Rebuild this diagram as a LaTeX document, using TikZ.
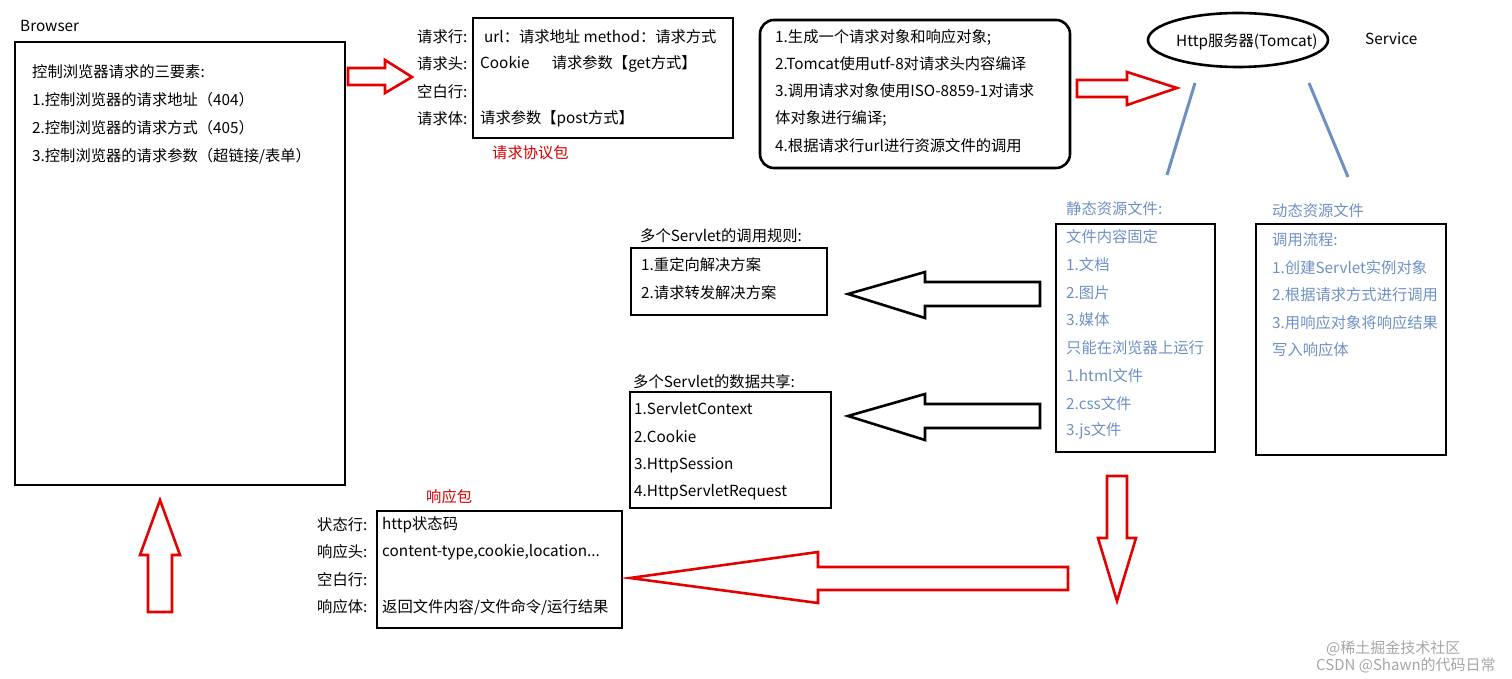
\documentclass[tikz,border=0pt]{standalone}
\usepackage{fontspec}
\setmainfont{Noto Sans CJK SC}
\definecolor{sblue}{HTML}{6E8FC4}
\begin{document}
\begin{tikzpicture}[x=1pt,y=-1pt,
  box/.style={draw=black,line width=2.6pt},
  t/.style={anchor=west,inner sep=0pt,font=\fontsize{15.3}{17}\selectfont},
  bt/.style={t,text=sblue},
  rt/.style={t,text=red!85!black},
  rarrow/.style={draw=red!90!black,line width=2.6pt,fill=white,line join=miter},
  karrow/.style={draw=black,line width=2.6pt,fill=white,line join=miter},
  bline/.style={draw=sblue,line width=3pt}]
\useasboundingbox (0,0) rectangle (1512,679);
% boxes
\draw[box] (15,42) rectangle (345,485);
\node[t] (br) at (20,26) {Browser};
\node[t] at (32,72) {控制浏览器请求的三要素:};
\node[t] at (32,100) {1.控制浏览器的请求地址（404）};
\node[t] at (32,128) {2.控制浏览器的请求方式（405）};
\node[t] at (32,156) {3.控制浏览器的请求参数（超链接/表单）};
% request package
\draw[box] (473,18) rectangle (733,138);
\node[t] at (417,37) {请求行:};
\node[t] at (417,64) {请求头:};
\node[t] at (417,92) {空白行:};
\node[t] at (417,119) {请求体:};
\node[t] at (484,37) {url：请求地址 method：请求方式};
\node[t] at (480,64) {Cookie\quad\ \ 请求参数【get方式】};
\node[t] at (480,119) {请求参数【post方式】};
\node[rt] at (492,153) {请求协议包};
% rounded box
\draw[box,rounded corners=14pt] (760,20) rectangle (1070,168);
\node[t] at (775,37) {1.生成一个请求对象和响应对象;};
\node[t] at (775,64) {2.Tomcat使用utf-8对请求头内容编译};
\node[t] at (775,91) {3.调用请求对象使用ISO-8859-1对请求};
\node[t] at (775,118) {体对象进行编译;};
\node[t] at (775,146) {4.根据请求行url进行资源文件的调用};
% server
\draw[box] (1238,40) ellipse (90 and 27);
\node[t] (srv) at (1176,42) {Http服务器(Tomcat)};
\node[t] at (1365,39) {Service};
\draw[bline] (1195,83) -- (1167,175);
\draw[bline] (1309,83) -- (1348,177);
% static
\node[bt] at (1066,209) {静态资源文件:};
\draw[box] (1056,224) rectangle (1215,452);
\foreach \s [count=\i from 0] in {文件内容固定,1.文档,2.图片,3.媒体,只能在浏览器上运行,1.html文件,2.css文件,3.js文件}
  \node[bt] at (1066,237+27.7*\i) {\s};
% dynamic
\node[bt] at (1272,211) {动态资源文件};
\draw[box] (1256,224) rectangle (1446,455);
\foreach \s [count=\i from 0] in {调用流程:,1.创建Servlet实例对象,2.根据请求方式进行调用,3.用响应对象将响应结果,写入响应体}
  \node[bt] at (1272,240+27.5*\i) {\s};
% servlet rules
\node[t] at (640,236) {多个Servlet的调用规则:};
\draw[box] (631,248) rectangle (827,315);
\node[t] at (641,265) {1.重定向解决方案};
\node[t] at (641,293) {2.请求转发解决方案};
% data share
\node[t] at (633,382) {多个Servlet的数据共享:};
\draw[box] (630,392) rectangle (831,508);
\node[t] at (634,409) {1.ServletContext};
\node[t] at (634,437) {2.Cookie};
\node[t] at (634,465) {3.HttpSession};
\node[t] at (634,492) {4.HttpServletRequest};
% response
\node[rt] at (426,497) {响应包};
\draw[box] (377,511) rectangle (622,628);
\node[t] at (317,525) {状态行:};
\node[t] at (317,552) {响应头:};
\node[t] at (317,580) {空白行:};
\node[t] at (317,607) {响应体:};
\node[t] at (382,525) {http状态码};
\node[t] at (382,552) {content-type,cookie,location...};
\node[t] at (382,607) {返回文件内容/文件命令/运行结果};
% arrows
\draw[rarrow] (348,68) -- (385,68) -- (385,60) -- (412,77) -- (385,93) -- (385,85) -- (348,85) -- cycle;
\draw[rarrow] (1077,80) -- (1127,80) -- (1127,72) -- (1177,88) -- (1127,105) -- (1127,97) -- (1077,97) -- cycle;
\draw[karrow] (1040,282) -- (925,282) -- (925,272) -- (848,294) -- (925,318) -- (925,306) -- (1040,306) -- cycle;
\draw[karrow] (1040,404) -- (925,404) -- (925,394) -- (848,416) -- (925,440) -- (925,428) -- (1040,428) -- cycle;
\draw[rarrow] (1107,476) -- (1127,476) -- (1127,538) -- (1136,538) -- (1117,601) -- (1098,538) -- (1107,538) -- cycle;
\draw[rarrow] (1068,567) -- (818,567) -- (818,552) -- (630,578) -- (818,603) -- (818,590) -- (1068,590) -- cycle;
\draw[rarrow] (148,612) -- (148,555) -- (140,555) -- (160,500) -- (180,555) -- (172,555) -- (172,612) -- cycle;
% watermark
\node[t,text=gray!70,font=\fontsize{15}{16}\selectfont] at (1326,648) {@稀土掘金技术社区};
\node[t,text=gray!70,font=\fontsize{15}{16}\selectfont] at (1316,665) {CSDN @Shawn的代码日常};
\end{tikzpicture}
\end{document}
